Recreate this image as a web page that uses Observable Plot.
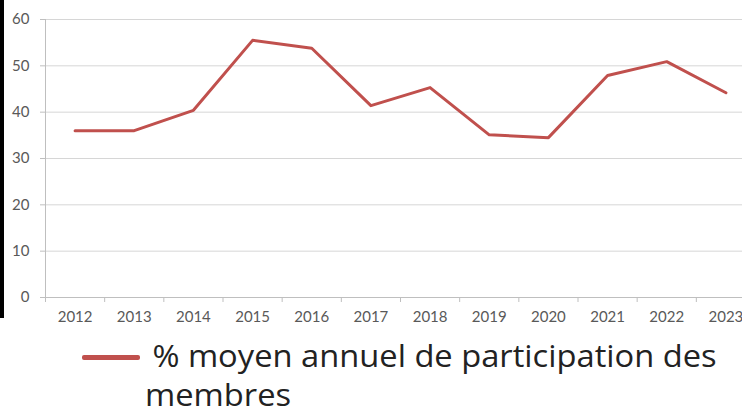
<!DOCTYPE html>
<html>
<head>
<meta charset="utf-8">
<script src="https://cdn.jsdelivr.net/npm/d3@7"></script>
<script src="https://cdn.jsdelivr.net/npm/@observablehq/plot@0.6"></script>
<style>
  html, body { margin: 0; padding: 0; background: #fff; overflow: hidden; width: 742px; height: 414px; }
  #wrap { position: relative; width: 742px; height: 414px; overflow: hidden; }
  #edge { position: absolute; left: 0; top: 0; width: 4px; height: 318px; background: #000; }
  #swatch { position: absolute; left: 82px; top: 355px; width: 58px; height: 5px; background: #c0504d; border-radius: 2px; }
  #legendText { position: absolute; left: 145px; top: 336px; font-family: "Open Sans", sans-serif; font-size: 31px; line-height: 39px; color: #222; text-indent: 7px; transform-origin: 0 0; white-space: normal; }
</style>
</head>
<body>
<div id="wrap">
  <div id="chart"></div>
  <div id="edge"></div>
  <div id="swatch"></div>
  <div id="legendText"></div>
</div>
<script>
const years = [2012, 2013, 2014, 2015, 2016, 2017, 2018, 2019, 2020, 2021, 2022, 2023];
const values = [36.0, 36.0, 40.4, 55.5, 53.8, 41.4, 45.3, 35.1, 34.5, 47.9, 50.9, 44.2];
const yTicks = [0, 10, 20, 30, 40, 50, 60];
const seriesLabel = "% moyen annuel de participation des membres";
const lineColor = "#c0504d";

const data = years.map((year, i) => ({year, value: values[i]}));
const boundaries = years.map(y => y - 0.5);

const chart = Plot.plot({
  width: 742,
  height: 330,
  marginTop: 19,
  marginBottom: 33,
  marginLeft: 45,
  marginRight: 0,
  style: { fontFamily: "Lato, sans-serif", fontSize: "15px", color: "#595959", background: "white" },
  x: { type: "linear", domain: [years[0] - 0.5, years[years.length - 1] + 0.5], range: [45, 755] },
  y: { domain: [0, 60] },
  marks: [
    Plot.ruleY(yTicks.slice(1), { stroke: "#d6d6d6", strokeWidth: 1 }),
    Plot.ruleY([0], { stroke: "#bfbfbf", strokeWidth: 1 }),
    Plot.ruleX([boundaries[0]], { stroke: "#bfbfbf", strokeWidth: 1 }),
    Plot.axisY({ ticks: yTicks, tickSize: 5, tickPadding: 11, stroke: "#bfbfbf", fill: "#595959", fontSize: 15, label: null, tickFormat: d => String(d) }),
    Plot.axisX({ ticks: boundaries, tickSize: 5, stroke: "#bfbfbf", tickFormat: () => "", label: null }),
    Plot.axisX({ ticks: years, tickSize: 0, tickPadding: 14, fill: "#595959", fontSize: 15, tickFormat: d => String(d), label: null }),
    Plot.line(data, { x: "year", y: "value", stroke: lineColor, strokeWidth: 3, strokeLinejoin: "round" })
  ]
});
document.getElementById("chart").appendChild(chart);

// legend: wrap after "des" and stretch to the reference's text width
const legend = document.getElementById("legendText");
legend.textContent = seriesLabel;
document.getElementById("swatch").style.background = lineColor;
const words = seriesLabel.split(" ");
const firstLine = words.slice(0, words.length - 1).join(" ");
const ctx = document.createElement("canvas").getContext("2d");
ctx.font = '31px "Open Sans"';
const w = ctx.measureText(firstLine).width;
legend.style.width = (w + 7 + 20) + "px";
legend.style.transform = "scaleX(" + (564 / w).toFixed(3) + ")";
</script>
</body>
</html>
